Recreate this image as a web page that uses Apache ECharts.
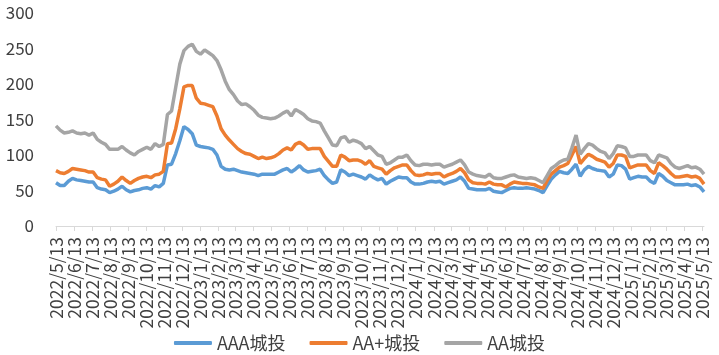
<!DOCTYPE html>
<html>
<head>
<meta charset="utf-8">
<script src="https://cdn.jsdelivr.net/npm/echarts@6/dist/echarts.min.js"></script>
<style>
html,body{margin:0;padding:0;background:#fff;}
#chart{width:719px;height:355px;}
</style>
</head>
<body>
<div id="chart"></div>
<script>
// Weekly observations, first date and last date
const startDate = '2022/5/13';
const endDate = '2025/5/16';
const seriesNames = ['AAA城投', 'AA+城投', 'AA城投'];

const tickLabels = ['2022/5/13','2022/6/13','2022/7/13','2022/8/13','2022/9/13','2022/10/13','2022/11/13','2022/12/13',
'2023/1/13','2023/2/13','2023/3/13','2023/4/13','2023/5/13','2023/6/13','2023/7/13','2023/8/13','2023/9/13','2023/10/13','2023/11/13','2023/12/13',
'2024/1/13','2024/2/13','2024/3/13','2024/4/13','2024/5/13','2024/6/13','2024/7/13','2024/8/13','2024/9/13','2024/10/13','2024/11/13','2024/12/13',
'2025/1/13','2025/2/13','2025/3/13','2025/4/13','2025/5/13'];

const aaa = [61,57,57,63,67,65,64,63,62,62,54,52,51,47,49,52,56,51,48,50,
51,53,54,52,57,55,60,86,87,102,120,140,136,130,114,112,111,110,108,100,
84,80,79,80,78,76,75,74,73,71,73,73,73,73,76,79,81,76,80,85,
79,76,77,78,80,71,65,60,62,79,76,71,73,71,69,66,72,68,65,67,
59,63,66,69,68,68,62,59,59,60,62,63,62,63,59,61,63,65,69,63,
53,52,51,51,51,53,49,48,47,50,53,54,53,53,54,53,52,50,47,57,
66,72,77,75,74,80,87,70,79,84,81,79,78,77,69,73,86,85,80,66,
68,70,69,69,63,60,74,70,64,61,58,58,58,59,57,58,55,48];

const aaPlus = [78,75,74,77,81,80,79,78,76,76,68,66,65,56,59,63,69,64,60,64,
67,69,70,68,72,73,77,116,117,137,165,196,198,198,180,173,172,170,168,155,
137,128,121,115,109,105,102,101,98,95,97,95,96,98,102,107,110,107,115,118,
114,108,109,109,109,98,91,84,84,100,97,92,93,93,91,87,92,84,82,80,
73,78,82,84,86,86,78,72,71,72,74,73,74,74,69,72,74,77,81,75,
65,61,60,60,59,62,59,58,58,55,59,62,61,60,60,59,58,55,53,64,
73,78,83,85,88,100,112,88,95,101,98,94,92,90,83,88,100,100,98,82,
84,86,86,86,78,74,89,85,80,74,69,69,70,71,69,70,67,59];

const aa = [141,135,131,132,134,131,130,131,128,131,122,118,115,108,108,108,112,107,103,100,
105,108,111,108,116,112,115,157,162,195,228,247,253,256,246,242,248,244,240,233,
220,204,192,185,176,171,172,168,163,156,153,152,151,152,155,159,162,155,164,161,
157,151,148,147,145,134,124,114,113,124,126,118,121,119,116,109,112,106,100,98,
87,89,93,97,97,100,92,86,85,87,87,86,87,87,83,85,87,90,93,86,
76,73,71,70,69,73,68,67,67,69,71,72,69,68,67,68,67,64,61,71,
81,85,90,93,94,110,128,101,109,116,114,109,105,103,95,102,113,112,110,98,
98,100,100,100,92,89,100,98,96,88,83,81,83,85,82,83,80,73];

const yTicks = {min: 0, max: 300, interval: 50};
const colors = ['#5B9BD5', '#ED7D31', '#A5A5A5'];

function parseD(s){ const p = s.split('/').map(Number); return Date.UTC(p[0], p[1]-1, p[2]); }
const DAY = 86400000;
const t0 = parseD(startDate);
// x values expressed in days since the first observation
function pairs(vals){ return vals.map((v, i) => [i*7, v]); }
const tickValues = tickLabels.map(s => Math.round((parseD(s) - t0) / DAY));
const labelMap = {};
tickLabels.forEach((s, i) => { labelMap[tickValues[i]] = s; });
const xMax = Math.round((parseD(endDate) - t0) / DAY);

const font = '"Noto Sans CJK SC", "Liberation Sans", sans-serif';
const chart = echarts.init(document.getElementById('chart'));
chart.setOption({
  animation: false,
  color: colors,
  grid: {left: 56, right: 15, top: 13, bottom: 129, containLabel: false},
  legend: {
    bottom: -2, left: 'center',
    itemWidth: 38, itemHeight: 4, itemGap: 24,
    icon: 'roundRect',
    textStyle: {fontSize: 18, color: '#404040', fontFamily: font},
    data: seriesNames
  },
  xAxis: {
    type: 'value',
    min: 0, max: xMax,
    axisLine: {lineStyle: {color: '#D9D9D9', width: 1}},
    axisTick: {show: true, customValues: tickValues, length: 5, lineStyle: {color: '#D9D9D9'}},
    axisLabel: {
      customValues: tickValues, rotate: 90, margin: 11,
      hideOverlap: false, showMinLabel: true, showMaxLabel: true,
      fontSize: 17.5, color: '#404040', fontFamily: font,
      formatter: function(v){ return labelMap[Math.round(v)] || ''; }
    },
    splitLine: {show: false}
  },
  yAxis: {
    type: 'value', min: yTicks.min, max: yTicks.max, interval: yTicks.interval,
    axisLine: {show: false}, axisTick: {show: false},
    splitLine: {show: false},
    axisLabel: {fontSize: 17, color: '#404040', margin: 22, fontFamily: font}
  },
  series: [
    {name: seriesNames[0], type: 'line', data: pairs(aaa), showSymbol: false, lineStyle: {width: 3.5}},
    {name: seriesNames[1], type: 'line', data: pairs(aaPlus), showSymbol: false, lineStyle: {width: 3.5}},
    {name: seriesNames[2], type: 'line', data: pairs(aa), showSymbol: false, lineStyle: {width: 3.5}}
  ]
});
</script>
</body>
</html>
